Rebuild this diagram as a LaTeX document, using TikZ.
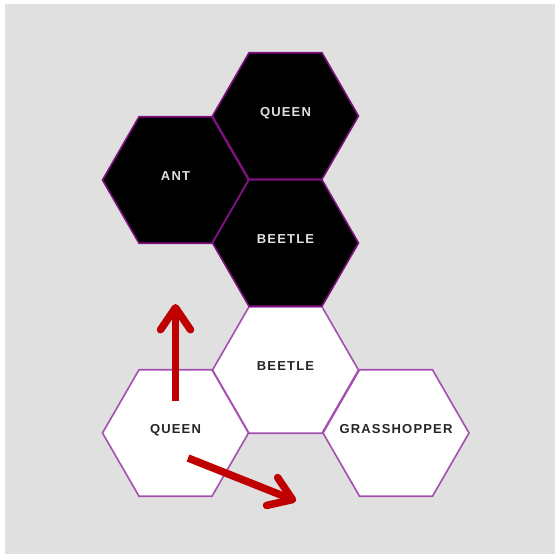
\documentclass[tikz,border=0pt]{standalone}
\usepackage{fontspec}
\usepackage{tikz}
\usetikzlibrary{arrows.meta,shapes.geometric}
\newfontfamily\hexfont[LetterSpace=9]{Liberation Sans}
\definecolor{boardgray}{HTML}{E0E0E0}
\definecolor{rimdark}{HTML}{7E1080}
\definecolor{rimlight}{HTML}{A44FB0}
\definecolor{movered}{HTML}{C00000}
\newcommand{\piece}[1]{\makebox[0pt]{#1}}
\tikzset{
  hex/.style={regular polygon,regular polygon sides=6,minimum size=146pt,inner sep=0pt,
    line width=1.6pt,text height=9pt,text depth=9pt,font=\hexfont\bfseries\fontsize{13}{14}\selectfont},
  bhex/.style={hex,draw=rimdark,fill=black,text=boardgray},
  whex/.style={hex,draw=rimlight,fill=white,text=black!85},
  move/.style={movered,line width=7.5pt,-{Straight Barb[length=22pt,width=30pt,round]}},
}
\begin{document}
\begin{tikzpicture}[x=1pt,y=-1pt]
  \useasboundingbox (0,0) rectangle (555,554);
  \fill[boardgray] (5,4) rectangle (555,554);
  % white pieces
  \node[whex] (wbeetle) at (285.5,370){\piece{BEETLE}};
  \node[whex] (wqueen)  at (175.5,433){\piece{QUEEN}};
  \node[whex] (grass)   at (396,433){\piece{GRASSHOPPER}};
  % black pieces
  \node[bhex] (bqueen)  at (285.5,116){\piece{QUEEN}};
  \node[bhex] (ant)     at (175.5,180){\piece{ANT}};
  \node[bhex] (bbeetle) at (285.5,243){\piece{BEETLE}};
  % possible moves of the white queen
  \coordinate (up0) at (175.5,401);
  \coordinate (up1) at (175.5,304);
  \coordinate (dn0) at (188,458);
  \coordinate (dn1) at (296,501);
  \draw[move] (up0) -- (up1);
  \draw[move] (dn0) -- (dn1);
\end{tikzpicture}
\end{document}
